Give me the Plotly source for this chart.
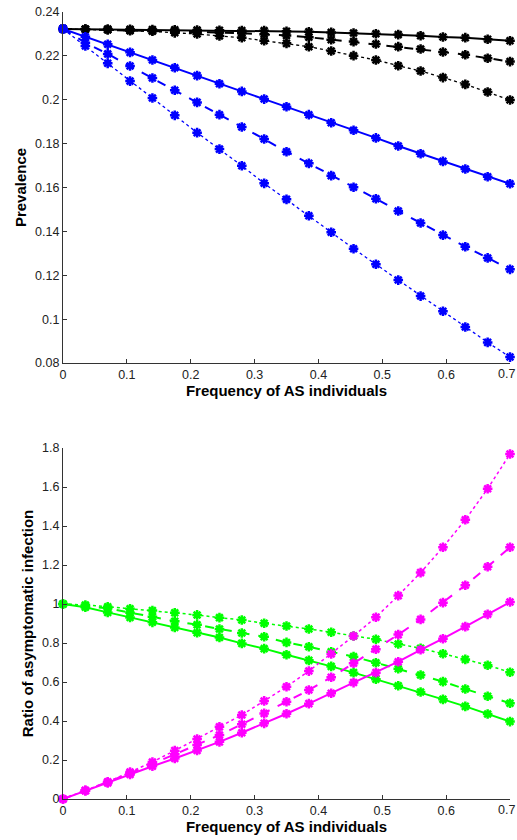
import plotly.graph_objects as go

freq = [0, 0.035, 0.07, 0.105, 0.14, 0.175, 0.21, 0.245, 0.28, 0.315, 0.35,
        0.385, 0.42, 0.455, 0.49, 0.525, 0.56, 0.595, 0.63, 0.665, 0.7]

# Top panel: prevalence
prev_black_solid = [0.2323, 0.2322, 0.2322, 0.2321, 0.2320, 0.2319, 0.2318, 0.2317, 0.2316, 0.2315, 0.2312,
                    0.2310, 0.2307, 0.2304, 0.2301, 0.2297, 0.2292, 0.2286, 0.2283, 0.2276, 0.2269]
prev_black_dash = [0.2323, 0.2321, 0.2319, 0.2317, 0.2315, 0.2312, 0.2310, 0.2306, 0.2303, 0.2299, 0.2293,
                   0.2285, 0.2274, 0.2265, 0.2254, 0.2242, 0.2231, 0.2218, 0.2205, 0.2189, 0.2174]
prev_black_dot = [0.2323, 0.2321, 0.2319, 0.2315, 0.2312, 0.2305, 0.2300, 0.2291, 0.2283, 0.2269, 0.2257,
                  0.2242, 0.2222, 0.2201, 0.2181, 0.2155, 0.2131, 0.2101, 0.2070, 0.2035, 0.1999]
prev_blue_solid = [0.2323, 0.2287, 0.2253, 0.2216, 0.2181, 0.2146, 0.2110, 0.2073, 0.2038, 0.2003, 0.1968,
                   0.1932, 0.1895, 0.1861, 0.1826, 0.1789, 0.1754, 0.1719, 0.1684, 0.1649, 0.1617]
prev_blue_dash = [0.2323, 0.2260, 0.2209, 0.2154, 0.2099, 0.2043, 0.1988, 0.1932, 0.1876, 0.1821, 0.1763,
                  0.1710, 0.1654, 0.1601, 0.1549, 0.1493, 0.1438, 0.1383, 0.1330, 0.1279, 0.1227]
prev_blue_dot = [0.2323, 0.2245, 0.2166, 0.2085, 0.2008, 0.1929, 0.1850, 0.1775, 0.1699, 0.1619, 0.1546,
                 0.1471, 0.1396, 0.1321, 0.1250, 0.1178, 0.1105, 0.1036, 0.0964, 0.0894, 0.0827]

# Bottom panel: ratio of asymptomatic infection
ratio_green_solid = [1.0, 0.983, 0.957, 0.931, 0.906, 0.880, 0.853, 0.828, 0.798, 0.771, 0.740,
                     0.711, 0.680, 0.648, 0.614, 0.581, 0.549, 0.511, 0.475, 0.436, 0.397]
ratio_green_dash = [1.0, 0.989, 0.978, 0.955, 0.935, 0.911, 0.894, 0.872, 0.851, 0.832, 0.803,
                    0.781, 0.755, 0.730, 0.699, 0.668, 0.636, 0.602, 0.564, 0.527, 0.491]
ratio_green_dot = [1.0, 0.995, 0.986, 0.976, 0.967, 0.955, 0.944, 0.930, 0.918, 0.901, 0.887,
                   0.872, 0.855, 0.836, 0.819, 0.795, 0.773, 0.745, 0.716, 0.686, 0.650]
ratio_mag_solid = [0.0, 0.043, 0.082, 0.126, 0.168, 0.208, 0.249, 0.293, 0.340, 0.388, 0.437,
                   0.489, 0.542, 0.597, 0.648, 0.704, 0.765, 0.822, 0.884, 0.947, 1.010]
ratio_mag_dash = [0.0, 0.043, 0.086, 0.132, 0.180, 0.230, 0.277, 0.328, 0.383, 0.439, 0.499,
                  0.559, 0.624, 0.696, 0.768, 0.843, 0.921, 1.007, 1.096, 1.191, 1.291]
ratio_mag_dot = [0.0, 0.044, 0.088, 0.138, 0.190, 0.248, 0.308, 0.370, 0.431, 0.503, 0.576,
                 0.656, 0.744, 0.836, 0.932, 1.043, 1.161, 1.291, 1.432, 1.591, 1.769]

x_ticks = [0, 0.1, 0.2, 0.3, 0.4, 0.5, 0.6, 0.7]
x_tick_labels = ["0", "0.1", "0.2", "0.3", "0.4", "0.5", "0.6", "0.7"]
top_y_ticks = [0.08, 0.1, 0.12, 0.14, 0.16, 0.18, 0.2, 0.22, 0.24]
top_y_labels = ["0.08", "0.1", "0.12", "0.14", "0.16", "0.18", "0.2", "0.22", "0.24"]
bot_y_ticks = [0, 0.2, 0.4, 0.6, 0.8, 1, 1.2, 1.4, 1.6, 1.8]
bot_y_labels = ["0", "0.2", "0.4", "0.6", "0.8", "1", "1.2", "1.4", "1.6", "1.8"]

fig = go.Figure()

def add(y, color, dash, xa, ya, width):
    fig.add_trace(go.Scatter(
        x=freq, y=y, mode="lines+markers", xaxis=xa, yaxis=ya,
        line=dict(color=color, dash=dash, width=width),
        marker=dict(symbol="asterisk-open", size=8, color=color,
                    line=dict(color=color, width=2.5)),
        showlegend=False, cliponaxis=False))

add(prev_black_dot, "#000000", "dot", "x", "y", 1.3)
add(prev_black_dash, "#000000", "dash", "x", "y", 2)
add(prev_black_solid, "#000000", "solid", "x", "y", 2)
add(prev_blue_dot, "#0000FF", "dot", "x", "y", 1.3)
add(prev_blue_dash, "#0000FF", "dash", "x", "y", 2)
add(prev_blue_solid, "#0000FF", "solid", "x", "y", 2)

add(ratio_green_dot, "#00FF00", "dot", "x2", "y2", 1.5)
add(ratio_green_dash, "#00FF00", "dash", "x2", "y2", 2)
add(ratio_green_solid, "#00FF00", "solid", "x2", "y2", 2)
add(ratio_mag_dot, "#FF00FF", "dot", "x2", "y2", 1.5)
add(ratio_mag_dash, "#FF00FF", "dash", "x2", "y2", 2)
add(ratio_mag_solid, "#FF00FF", "solid", "x2", "y2", 2)

W, H = 517, 840
xdom = [63 / W, 510 / W]
top_dom = [1 - 363 / H, 1 - 12 / H]
bot_dom = [1 - 799 / H, 1 - 448 / H]

FONT = "Liberation Sans, Arial, sans-serif"
tickfont = dict(family=FONT, size=12.5, color="#222222")
titlefont = dict(family=FONT, size=15, color="#000000")

# the last x label would spill past the page edge, so it is drawn as an annotation nudged inward
x_text = x_tick_labels[:-1] + [""]

axis_common = dict(showgrid=False, zeroline=False, showline=True, linecolor="#333333",
                   linewidth=1.2, ticks="inside", ticklen=4, tickcolor="#333333",
                   tickfont=tickfont, mirror=False, automargin=False,
                   ticklabeloverflow="allow")

annotations = [
    dict(text=x_tick_labels[-1], xref="paper", yref="paper", x=1.0, y=top_dom[0],
         xanchor="right", yanchor="top", yshift=-2, showarrow=False, font=tickfont),
    dict(text=x_tick_labels[-1], xref="paper", yref="paper", x=1.0, y=bot_dom[0],
         xanchor="right", yanchor="top", yshift=-2, showarrow=False, font=tickfont),
]

fig.update_layout(
    width=W, height=H, margin=dict(l=0, r=0, t=0, b=0, autoexpand=False),
    paper_bgcolor="white", plot_bgcolor="white",
    annotations=annotations,
    xaxis=dict(domain=xdom, range=[0, 0.7], tickvals=x_ticks, ticktext=x_text,
               anchor="y", title=dict(text="<b>Frequency of AS individuals</b>", font=titlefont, standoff=0),
               **axis_common),
    yaxis=dict(domain=top_dom, range=[0.08, 0.24], tickvals=top_y_ticks, ticktext=top_y_labels,
               anchor="x", title=dict(text="<b>Prevalence</b>", font=titlefont, standoff=4),
               **axis_common),
    xaxis2=dict(domain=xdom, range=[0, 0.7], tickvals=x_ticks, ticktext=x_text,
                anchor="y2", title=dict(text="<b>Frequency of AS individuals</b>", font=titlefont, standoff=0),
                **axis_common),
    yaxis2=dict(domain=bot_dom, range=[0, 1.8], tickvals=bot_y_ticks, ticktext=bot_y_labels,
                anchor="x2", title=dict(text="<b>Ratio of asymptomatic infection</b>", font=titlefont, standoff=4),
                **axis_common),
)

# remove the default page margin so the 517x840 figure fills the window exactly
fig.write_html("out.html", config={"displayModeBar": False},
               post_script="document.body.style.margin='0';document.body.style.overflow='hidden';")
